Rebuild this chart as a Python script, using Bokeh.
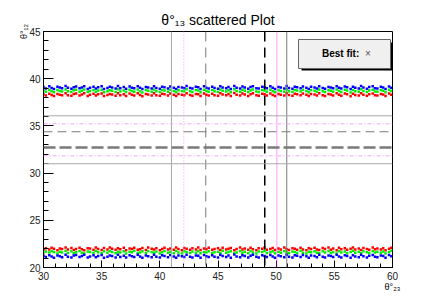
from bokeh.plotting import figure
from bokeh.models import Range1d, Span, Label, BoxAnnotation, SingleIntervalTicker, Title
from bokeh.embed import file_html
from bokeh.resources import INLINE

# ---------------- data ----------------
X_RANGE = [30, 60]
Y_RANGE = [20, 45]

TITLE = "\u03b8\u00b0\u2081\u2083 scattered Plot"
X_TITLE = "\u03b8\u00b0\u2082\u2083"
Y_TITLE = "\u03b8\u00b0\u2081\u2082"
BEST_FIT = "Best fit:"

THETA23 = [30.0, 30.2, 30.5, 30.7, 30.9, 31.2, 31.4, 31.6, 31.9, 32.1,
           32.4, 32.6, 32.8, 33.1, 33.3, 33.5, 33.8, 34.0, 34.3, 34.5,
           34.7, 35.0, 35.2, 35.5, 35.7, 35.9, 36.2, 36.4, 36.6, 36.9,
           37.1, 37.4, 37.6, 37.8, 38.1, 38.3, 38.5, 38.8, 39.0, 39.3,
           39.5, 39.7, 40.0, 40.2, 40.4, 40.7, 40.9, 41.2, 41.4, 41.6,
           41.9, 42.1, 42.3, 42.6, 42.8, 43.1, 43.3, 43.5, 43.8, 44.0,
           44.2, 44.5, 44.7, 45.0, 45.2, 45.4, 45.7, 45.9, 46.1, 46.4,
           46.6, 46.9, 47.1, 47.3, 47.6, 47.8, 48.0, 48.3, 48.5, 48.8,
           49.0, 49.2, 49.5, 49.7, 49.9, 50.2, 50.4, 50.7, 50.9, 51.1,
           51.4, 51.6, 51.8, 52.1, 52.3, 52.6, 52.8, 53.0, 53.3, 53.5,
           53.7, 54.0, 54.2, 54.5, 54.7, 54.9, 55.2, 55.4, 55.6, 55.9,
           56.1, 56.4, 56.6, 56.8, 57.1, 57.3, 57.5, 57.8, 58.0, 58.3,
           58.5, 58.7, 59.0, 59.2, 59.4, 59.7, 59.9]

BLUE_TOP = [39.12, 38.95, 39.20, 39.01, 38.90, 39.15, 39.07, 38.98, 39.22, 39.03,
            38.93, 39.10, 39.18, 38.99, 39.06, 39.21, 38.92, 39.04, 39.14, 38.97,
            39.09, 39.19, 38.91, 39.02, 39.16, 39.08, 38.96, 39.23, 39.00, 39.11,
            38.94, 39.17, 39.05, 38.99, 39.20, 39.03, 38.90, 39.13, 39.07, 38.97,
            39.21, 39.01, 38.93, 39.15, 39.09, 38.96, 39.18, 39.04, 38.92, 39.12,
            39.06, 38.98, 39.22, 39.02, 38.95, 39.14, 39.10, 38.91, 39.19, 39.05,
            38.97, 39.16, 39.01, 38.94, 39.20, 39.08, 38.99, 39.13, 38.92, 39.23,
            39.04, 38.96, 39.17, 39.07, 38.93, 39.11, 39.21, 39.00, 38.95, 39.15,
            39.09, 38.98, 39.19, 39.03, 38.91, 39.12, 39.06, 38.97, 39.22, 39.02,
            38.94, 39.16, 39.10, 38.99, 39.18, 39.05, 38.92, 39.14, 39.08, 38.96,
            39.21, 39.01, 38.93, 39.13, 39.07, 38.98, 39.20, 39.04, 38.95, 39.17,
            39.09, 38.90, 39.15, 39.03, 38.97, 39.22, 39.06, 38.94, 39.11, 39.19,
            39.00, 38.96, 39.14, 39.08, 38.92, 39.18, 39.05]

GREEN_TOP = [38.75, 38.62, 38.81, 38.68, 38.57, 38.79, 38.71, 38.64, 38.85, 38.66,
             38.59, 38.77, 38.83, 38.63, 38.72, 38.86, 38.58, 38.69, 38.80, 38.61,
             38.74, 38.84, 38.56, 38.67, 38.78, 38.73, 38.60, 38.87, 38.65, 38.76,
             38.58, 38.82, 38.70, 38.63, 38.85, 38.68, 38.55, 38.79, 38.72, 38.61,
             38.86, 38.66, 38.59, 38.80, 38.74, 38.62, 38.83, 38.69, 38.57, 38.77,
             38.71, 38.64, 38.87, 38.67, 38.60, 38.79, 38.75, 38.56, 38.84, 38.70,
             38.62, 38.81, 38.66, 38.59, 38.85, 38.73, 38.64, 38.78, 38.57, 38.88,
             38.69, 38.61, 38.82, 38.72, 38.58, 38.76, 38.86, 38.65, 38.60, 38.80,
             38.74, 38.63, 38.84, 38.68, 38.56, 38.77, 38.71, 38.62, 38.87, 38.67,
             38.59, 38.81, 38.75, 38.64, 38.83, 38.70, 38.57, 38.79, 38.73, 38.61,
             38.86, 38.66, 38.58, 38.78, 38.72, 38.63, 38.85, 38.69, 38.60, 38.82,
             38.74, 38.55, 38.80, 38.68, 38.62, 38.87, 38.71, 38.59, 38.76, 38.84,
             38.65, 38.61, 38.79, 38.73, 38.57, 38.83, 38.70]

RED_TOP = [38.36, 38.22, 38.41, 38.28, 38.17, 38.39, 38.31, 38.24, 38.45, 38.26,
           38.19, 38.37, 38.43, 38.23, 38.32, 38.46, 38.18, 38.29, 38.40, 38.21,
           38.34, 38.44, 38.16, 38.27, 38.38, 38.33, 38.20, 38.47, 38.25, 38.35,
           38.18, 38.42, 38.30, 38.23, 38.45, 38.28, 38.15, 38.39, 38.32, 38.21,
           38.46, 38.26, 38.19, 38.40, 38.34, 38.22, 38.43, 38.29, 38.17, 38.37,
           38.31, 38.24, 38.47, 38.27, 38.20, 38.39, 38.35, 38.16, 38.44, 38.30,
           38.22, 38.41, 38.26, 38.19, 38.45, 38.33, 38.24, 38.38, 38.17, 38.48,
           38.29, 38.21, 38.42, 38.32, 38.18, 38.36, 38.46, 38.25, 38.20, 38.40,
           38.34, 38.23, 38.44, 38.28, 38.16, 38.37, 38.31, 38.22, 38.47, 38.27,
           38.19, 38.41, 38.35, 38.24, 38.43, 38.30, 38.17, 38.39, 38.33, 38.21,
           38.46, 38.26, 38.18, 38.38, 38.32, 38.23, 38.45, 38.29, 38.20, 38.42,
           38.34, 38.15, 38.40, 38.28, 38.22, 38.47, 38.31, 38.19, 38.36, 38.44,
           38.25, 38.21, 38.39, 38.33, 38.17, 38.43, 38.30]

RED_BOTTOM = [21.88, 22.05, 21.92, 22.10, 21.99, 21.84, 22.02, 21.95, 22.12, 21.90,
              22.07, 21.86, 21.97, 22.09, 21.93, 21.83, 22.04, 22.00, 21.89, 22.11,
              21.96, 21.85, 22.06, 21.91, 22.13, 21.98, 21.87, 22.03, 21.94, 22.08,
              21.82, 22.01, 21.97, 22.10, 21.88, 21.93, 22.06, 21.85, 22.12, 21.99,
              21.90, 22.04, 21.84, 21.96, 22.09, 21.92, 22.02, 21.87, 22.11, 21.95,
              21.83, 22.07, 21.98, 21.89, 22.05, 21.91, 22.13, 21.86, 22.00, 21.94,
              22.08, 21.88, 21.97, 22.03, 21.85, 22.10, 21.92, 21.99, 22.06, 21.84,
              21.95, 22.12, 21.90, 22.01, 21.87, 22.09, 21.93, 21.82, 22.04, 21.98,
              22.11, 21.89, 21.96, 22.07, 21.86, 22.02, 21.91, 22.13, 21.94, 21.85,
              22.05, 21.99, 21.88, 22.10, 21.92, 21.83, 22.03, 21.97, 22.08, 21.90,
              21.86, 22.06, 21.95, 22.12, 21.89, 22.00, 21.84, 22.09, 21.93, 22.04,
              21.87, 21.98, 22.11, 21.91, 22.02, 21.85, 22.07, 21.96, 21.88, 22.13,
              21.94, 22.01, 21.90, 22.05, 21.84, 21.99, 22.10]

GREEN_BOTTOM = [21.55, 21.70, 21.58, 21.76, 21.64, 21.49, 21.67, 21.60, 21.77, 21.53,
                21.72, 21.51, 21.62, 21.74, 21.57, 21.48, 21.69, 21.65, 21.54, 21.78,
                21.61, 21.50, 21.71, 21.56, 21.75, 21.63, 21.52, 21.68, 21.59, 21.73,
                21.47, 21.66, 21.62, 21.77, 21.53, 21.58, 21.71, 21.50, 21.76, 21.64,
                21.55, 21.69, 21.49, 21.61, 21.74, 21.57, 21.67, 21.52, 21.78, 21.60,
                21.48, 21.72, 21.63, 21.54, 21.70, 21.56, 21.75, 21.51, 21.65, 21.59,
                21.73, 21.53, 21.62, 21.68, 21.50, 21.77, 21.57, 21.64, 21.71, 21.49,
                21.60, 21.76, 21.55, 21.66, 21.52, 21.74, 21.58, 21.47, 21.69, 21.63,
                21.78, 21.54, 21.61, 21.72, 21.51, 21.67, 21.56, 21.75, 21.59, 21.50,
                21.70, 21.64, 21.53, 21.77, 21.57, 21.48, 21.68, 21.62, 21.73, 21.55,
                21.51, 21.71, 21.60, 21.76, 21.54, 21.65, 21.49, 21.74, 21.58, 21.69,
                21.52, 21.63, 21.78, 21.56, 21.67, 21.50, 21.72, 21.61, 21.53, 21.75,
                21.59, 21.66, 21.55, 21.70, 21.49, 21.64, 21.77]

BLUE_BOTTOM = [21.25, 21.10, 21.31, 21.16, 21.04, 21.28, 21.19, 21.08, 21.34, 21.13,
               21.06, 21.26, 21.32, 21.11, 21.21, 21.36, 21.05, 21.17, 21.29, 21.09,
               21.23, 21.33, 21.03, 21.15, 21.27, 21.22, 21.07, 21.35, 21.12, 21.24,
               21.05, 21.30, 21.18, 21.10, 21.34, 21.16, 21.02, 21.28, 21.20, 21.08,
               21.36, 21.14, 21.06, 21.29, 21.23, 21.09, 21.32, 21.17, 21.04, 21.26,
               21.19, 21.11, 21.35, 21.15, 21.07, 21.28, 21.24, 21.03, 21.33, 21.18,
               21.10, 21.30, 21.14, 21.06, 21.34, 21.22, 21.12, 21.27, 21.04, 21.37,
               21.17, 21.08, 21.31, 21.21, 21.05, 21.25, 21.35, 21.13, 21.07, 21.29,
               21.23, 21.11, 21.33, 21.16, 21.03, 21.26, 21.19, 21.09, 21.36, 21.15,
               21.06, 21.30, 21.24, 21.12, 21.32, 21.18, 21.04, 21.28, 21.22, 21.08,
               21.35, 21.14, 21.05, 21.27, 21.21, 21.10, 21.34, 21.17, 21.07, 21.31,
               21.23, 21.02, 21.29, 21.16, 21.09, 21.36, 21.20, 21.06, 21.25, 21.33,
               21.13, 21.08, 21.28, 21.22, 21.04, 21.32, 21.19]

# reference lines (theta23 vertical, theta12 horizontal)
V_LINES = [41.0, 42.06, 43.95, 49.02, 50.06, 50.91]
H_LINES = [36.07, 35.22, 34.38, 32.71, 31.83, 30.99]

# ---------------- layout ----------------
FONT = "Liberation Sans"
W, H = 436, 297
FL, FT, FW, FH = 43, 31, 349, 236   # frame in page pixels

def X(px):
    return X_RANGE[0] + (px - FL) * (X_RANGE[1] - X_RANGE[0]) / FW

def Y(py):
    return Y_RANGE[1] - (py - FT) * (Y_RANGE[1] - Y_RANGE[0]) / FH

p = figure(frame_width=FW, frame_height=FH,
           min_border_left=FL, min_border_right=W - FL - FW,
           min_border_top=FT, min_border_bottom=H - FT - FH,
           x_range=Range1d(*X_RANGE), y_range=Range1d(*Y_RANGE),
           output_backend="svg", toolbar_location=None, title=None,
           background_fill_color="white", border_fill_color="white")
p.grid.visible = False
p.outline_line_color = "black"
p.outline_line_width = 1

p.add_layout(Title(text=TITLE, align="center", text_font=FONT, text_font_size="14px",
                   text_font_style="normal", text_color="black", standoff=7), "above")

for ax, tin, tmin, stand, ttl, lst in ((p.xaxis[0], 7, 4, 4, X_TITLE, -1),
                                       (p.yaxis[0], 10, 5, 3, Y_TITLE, -3)):
    ax.ticker = SingleIntervalTicker(interval=5, num_minor_ticks=5)
    ax.major_tick_in = tin
    ax.major_tick_out = 0
    ax.minor_tick_in = tmin
    ax.minor_tick_out = 0
    ax.major_label_standoff = stand
    ax.major_label_text_font = FONT
    ax.major_label_text_font_size = "10px"
    ax.major_label_text_color = "#222222"
    ax.axis_line_color = "black"
    ax.major_tick_line_color = "black"
    ax.minor_tick_line_color = "black"
    ax.axis_label = ttl
    ax.axis_label_text_font = FONT
    ax.axis_label_text_font_size = "9px"
    ax.axis_label_text_font_style = "normal"
    ax.axis_label_text_color = "black"
    ax.axis_label_standoff = lst
    if "axis_label_align" in ax.properties():
        ax.axis_label_align = "end"

# scatter bands
for ys, col in ((RED_TOP, "#ff0000"), (GREEN_TOP, "#00ee00"), (BLUE_TOP, "#0000ff"),
                (RED_BOTTOM, "#ff0000"), (GREEN_BOTTOM, "#00ee00"), (BLUE_BOTTOM, "#0000ff")):
    n = min(len(ys), len(THETA23))
    p.scatter(x=THETA23[:n], y=ys[:n], marker="square", size=2.5,
              fill_color=col, line_color=None)

# vertical lines
v_styles = [("#a8a8a8", "solid", 1), ("#f09cf0", "1 2", 1), ("#7a7a7a", "10 6", 1),
            ("#000000", "10 6", 1.5), ("#ff33ff", "1 1", 1), ("#7a7a7a", "solid", 1)]
for loc, (c, d, w) in zip(V_LINES, v_styles):
    p.add_layout(Span(location=loc, dimension="height", line_color=c, line_dash=d, line_width=w))

h_styles = [("#a8a8a8", "solid", 1), ("#f4a8f4", "4 2 1 2", 1), ("#7a7a7a", "9 5", 1),
            ("#7a7a7a", "12 4", 2.5), ("#f4a8f4", "4 2 1 2", 1), ("#a8a8a8", "solid", 1)]
for loc, (c, d, w) in zip(H_LINES, h_styles):
    p.add_layout(Span(location=loc, dimension="width", line_color=c, line_dash=d, line_width=w))

# legend box with shadow
p.add_layout(BoxAnnotation(left=X(301), right=X(392), top=Y(42), bottom=Y(70),
                           fill_color="black", fill_alpha=1, line_alpha=0))
p.add_layout(BoxAnnotation(left=X(298), right=X(390), top=Y(39), bottom=Y(68),
                           fill_color="#f0f0f0", fill_alpha=1, line_color="#666666",
                           line_alpha=1, line_width=1))

def lab(text, px, py, size, **kw):
    kw.setdefault("text_color", "black")
    p.add_layout(Label(x=px - FL, y=(FT + FH) - py, x_units="screen", y_units="screen",
                       text=text, text_font=FONT, text_font_size=f"{size}px", **kw))

lab(BEST_FIT, 321.5, 58.5, 10, text_font_style="bold")
lab("\u00d7", 364.5, 58.5, 10, text_color="#555555")

open("out.html", "w").write(file_html(p, INLINE))
